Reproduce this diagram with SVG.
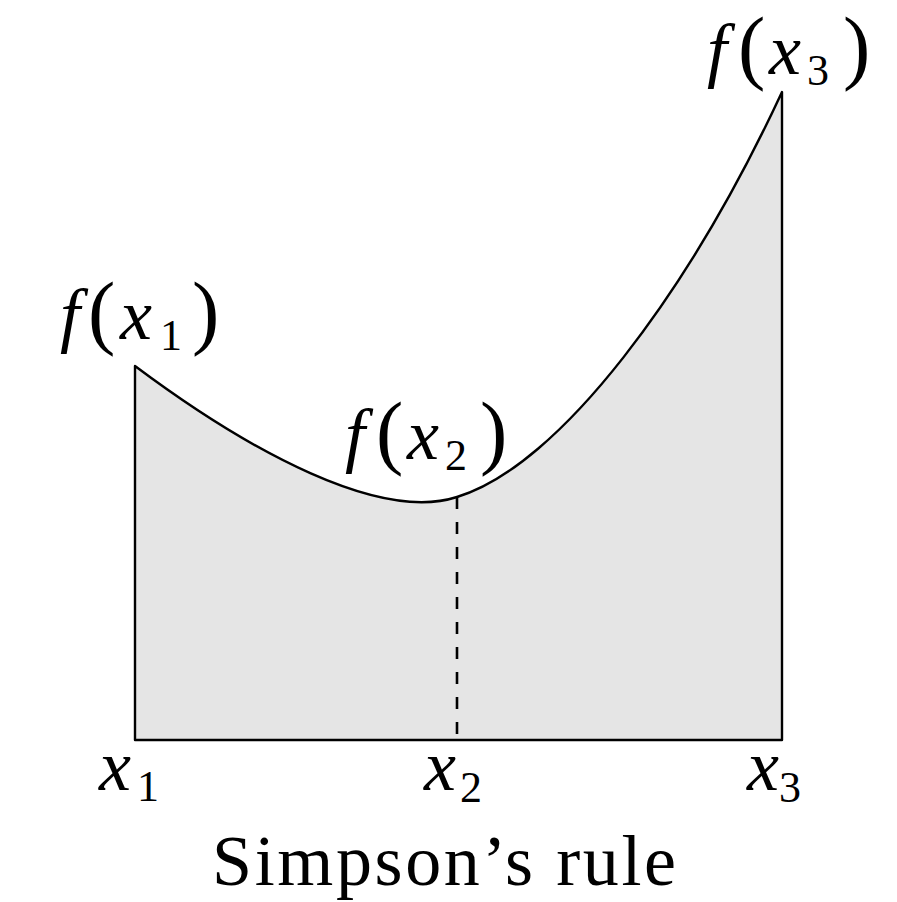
<svg xmlns="http://www.w3.org/2000/svg" width="897" height="902" viewBox="0 0 897 902">
<style>
.area{fill:#e5e5e5;stroke:none}
.ln{fill:none;stroke:#000;stroke-width:2.4;stroke-linejoin:round}
.dash{fill:none;stroke:#000;stroke-width:2.6;stroke-dasharray:12,13}
.lbl{font-family:"Liberation Serif","Times New Roman",serif;fill:#000}
.it{font-style:italic;font-size:72px}
.par{font-size:82px}
.sub{font-size:44px}
.cap{font-family:"Liberation Serif","Times New Roman",serif;font-size:72px;fill:#000}
</style>
<g id="region">
<path class="area" d="M135,740 L135,366 C250,452 380,522 457,497 C560,466 690,290 782,92 L782,740 Z"/>
</g>
<g id="connectors">
<path class="dash" d="M457,497 L457,740"/>
</g>
<g id="curve">
<path class="ln" d="M135,740 L135,366 C250,452 380,522 457,497 C560,466 690,290 782,92 L782,740 Z"/>
</g>
<g id="label-fx1" class="lbl">
<text><tspan class="it" x="60" y="339">f</tspan><tspan class="par" x="88" y="339">(</tspan><tspan class="it" x="120" y="339">x</tspan><tspan class="sub" x="160" y="350">1</tspan><tspan class="par" x="192" y="339">)</tspan></text>
</g>
<g id="label-fx2" class="lbl">
<text><tspan class="it" x="345" y="459">f</tspan><tspan class="par" x="376" y="459">(</tspan><tspan class="it" x="407" y="459">x</tspan><tspan class="sub" x="445" y="470">2</tspan><tspan class="par" x="480" y="459">)</tspan></text>
</g>
<g id="label-fx3" class="lbl">
<text><tspan class="it" x="707" y="74">f</tspan><tspan class="par" x="738" y="74">(</tspan><tspan class="it" x="769" y="74">x</tspan><tspan class="sub" x="807" y="85">3</tspan><tspan class="par" x="843" y="74">)</tspan></text>
</g>
<g id="label-x1" class="lbl">
<text><tspan class="it" x="99" y="790">x</tspan><tspan class="sub" x="137" y="801">1</tspan></text>
</g>
<g id="label-x2" class="lbl">
<text><tspan class="it" x="424" y="790">x</tspan><tspan class="sub" x="460" y="802">2</tspan></text>
</g>
<g id="label-x3" class="lbl">
<text><tspan class="it" x="747" y="790">x</tspan><tspan class="sub" x="779" y="802">3</tspan></text>
</g>
<g id="caption">
<text class="cap" x="212" y="885" textLength="464" lengthAdjust="spacing">Simpson’s rule</text>
</g>
</svg>
